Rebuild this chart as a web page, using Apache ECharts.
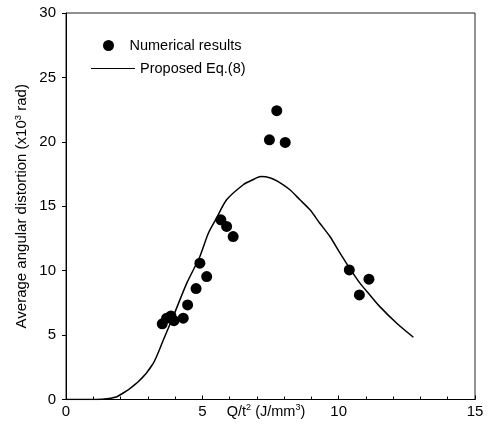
<!DOCTYPE html>
<html>
<head>
<meta charset="utf-8">
<script src="https://cdn.jsdelivr.net/npm/echarts@6/dist/echarts.min.js"></script>
<style>
html,body{margin:0;padding:0;background:#fff;}
#chart{width:494px;height:430px;}
</style>
</head>
<body>
<div id="chart"></div>
<script>
// Numerical results (Q/t^2, distortion)
var numX = [3.53, 3.69, 3.85, 3.96, 4.30, 4.46, 4.77, 4.91, 5.16, 5.68, 5.89, 6.13, 7.46, 7.73, 8.04, 10.39, 11.11, 10.76];
var numY = [5.87, 6.31, 6.49, 6.12, 6.31, 7.34, 8.61, 10.58, 9.54, 13.95, 13.43, 12.65, 20.16, 22.42, 19.95, 10.06, 9.34, 8.12];
// Proposed Eq.(8) curve
var eqX = [0, 1.1, 1.5, 1.9, 2.65, 3.2, 3.57, 3.93, 4.43, 4.91, 5.22, 5.5, 5.89, 6.5, 6.8, 7.15, 7.5, 7.75, 8.2, 8.58, 8.95, 9.3, 9.68, 10.05, 10.4, 10.78, 11.15, 11.51, 12.13, 12.74];
var eqY = [0, 0, 0.05, 0.25, 1.38, 2.81, 4.62, 6.43, 9.03, 11.1, 12.9, 14.0, 15.5, 16.67, 17.0, 17.3, 17.2, 16.95, 16.3, 15.5, 14.72, 13.7, 12.65, 11.36, 10.2, 9.03, 8.1, 7.21, 5.92, 4.83];
var xTicks = [0, 5, 10, 15];
var yTicks = [0, 5, 10, 15, 20, 25, 30];

var numData = numX.map(function(x, i){ return [x, numY[i]]; });
var eqData = eqX.map(function(x, i){ return [x, eqY[i]]; });

var FONT = 'Liberation Sans, Arial, sans-serif';
var chart = echarts.init(document.getElementById('chart'), null, {renderer: 'canvas'});
chart.setOption({
  animation: false,
  backgroundColor: '#fff',
  textStyle: {fontFamily: FONT, color: '#000'},
  grid: {left: 66, right: 19, top: 13, bottom: 30.5, outerBoundsMode: 'none', containLabel: false,
    show: true, borderColor: '#222', borderWidth: 1, backgroundColor: 'transparent'},
  legend: [{
    data: [{name: 'Numerical results', icon: 'circle', itemStyle: {opacity: 1, color: '#000'}}],
    left: 98, top: 33, itemWidth: 32, itemHeight: 11, itemGap: 5,
    textStyle: {fontFamily: FONT, fontSize: 14.5, color: '#000'},
    selectedMode: false
  }, {
    data: [{name: 'Proposed Eq.(8)', icon: 'rect'}],
    left: 86, top: 56, itemWidth: 44, itemHeight: 1.2,
    textStyle: {fontFamily: FONT, fontSize: 14.5, color: '#000'},
    selectedMode: false
  }],
  xAxis: {
    type: 'value', min: 0, max: 15, interval: 5,
    axisLine: {show: true, onZero: false, lineStyle: {color: '#000', width: 1}},
    axisTick: {show: true, inside: true, length: 4, lineStyle: {color: '#000'}},
    minorTick: {show: true, splitNumber: 5, length: 3, lineStyle: {color: '#000'}},
    splitLine: {show: false},
    axisLabel: {fontFamily: FONT, fontSize: 15, color: '#000', margin: 5,
      formatter: function(v){ return xTicks.indexOf(v) >= 0 ? String(v) : ''; }},
    name: '{a|Q/t}{s|2}{a| (J/mm}{s|3}{a|)}',
    nameLocation: 'middle', nameGap: 4, nameMoveOverlap: false,
    nameTextStyle: {padding: [0, 9, 0, 0], rich: {
      a: {fontFamily: FONT, fontSize: 14.5, color: '#000'},
      s: {fontFamily: FONT, fontSize: 9, color: '#000', verticalAlign: 'bottom', padding: [0, 0, 7, 0]}
    }}
  },
  yAxis: {
    type: 'value', min: 0, max: 30, interval: 5,
    axisLine: {show: true, lineStyle: {color: '#000', width: 1}},
    axisTick: {show: true, inside: false, length: 4, lineStyle: {color: '#000'}},
    splitLine: {show: false},
    axisLabel: {fontFamily: FONT, fontSize: 15, color: '#000', margin: 10,
      formatter: function(v){ return yTicks.indexOf(v) >= 0 ? String(v) : ''; }},
    name: '{a|Average angular distortion (x10}{s|3}{a| rad)}',
    nameLocation: 'middle', nameGap: 36, nameMoveOverlap: false,
    nameTextStyle: {rich: {
      a: {fontFamily: FONT, fontSize: 15, color: '#000'},
      s: {fontFamily: FONT, fontSize: 9.5, color: '#000', verticalAlign: 'bottom', padding: [0, 0, 7, 0]}
    }}
  },
  series: [{
    name: 'Numerical results', type: 'scatter', data: numData,
    symbol: 'circle', symbolSize: 11,
    itemStyle: {color: '#000', opacity: 1}
  }, {
    name: 'Proposed Eq.(8)', type: 'line', data: eqData,
    showSymbol: false, symbol: 'none', smooth: 0.25,
    lineStyle: {color: '#000', width: 1.5},
    itemStyle: {color: '#000'}
  }]
});
</script>
</body>
</html>
